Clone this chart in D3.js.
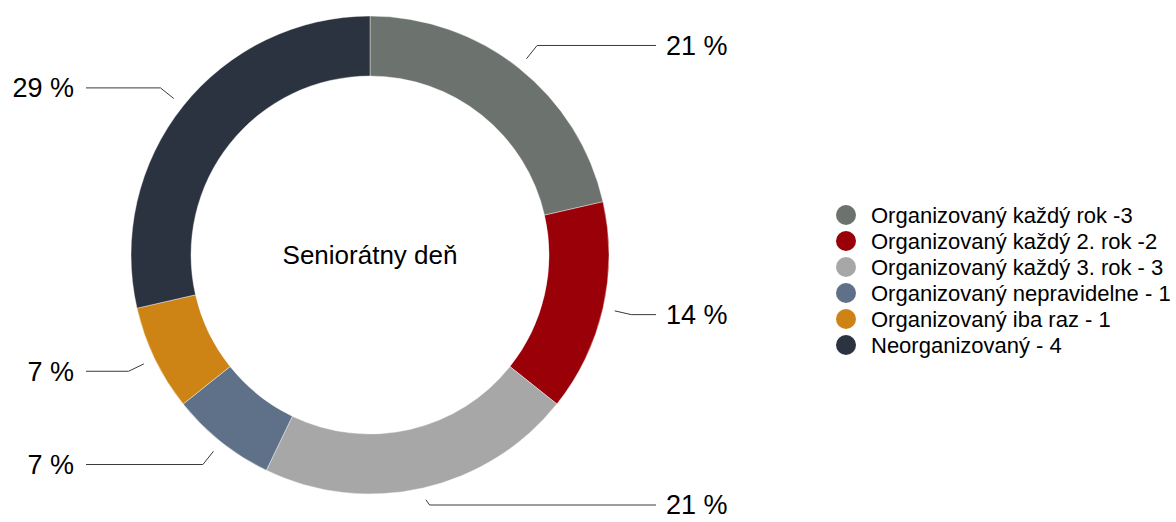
<!DOCTYPE html>
<html>
<head>
<meta charset="utf-8">
<script src="https://cdn.jsdelivr.net/npm/d3@7"></script>
<style>
  body { margin: 0; background: #fff; }
  text { font-family: "Liberation Sans", Arial, Helvetica, sans-serif; fill: #000; }
</style>
</head>
<body>
<svg id="svg"></svg>
<script>
////////////////////////////////////////////////////////////////////////
// Data

let categories = [
  "Organizovaný každý rok -3",
  "Organizovaný každý 2. rok -2",
  "Organizovaný každý 3. rok - 3",
  "Organizovaný nepravidelne - 1",
  "Organizovaný iba raz - 1",
  "Neorganizovaný - 4"
];
let values = [3, 2, 3, 1, 1, 4];
let colors = ["#6c736e", "#990007", "#a7a7a7", "#5f7189", "#cd8415", "#2c3340"];
let title = "Seniorátny deň";

////////////////////////////////////////////////////////////////////////
// Layout

let width = 1176, height = 522;
let cx = 370, cy = 255;
let outerR = 239, innerR = 179;

let svg = d3.select("#svg").attr("width", width).attr("height", height);
let g = svg.append("g").attr("transform", `translate(${cx},${cy})`);

let total = d3.sum(values);
let pie = d3.pie().sort(null).value(d => d)(values);
let arc = d3.arc().innerRadius(innerR).outerRadius(outerR);

g.selectAll("path.slice")
  .data(pie)
  .enter()
  .append("path")
  .attr("class", "slice")
  .attr("d", arc)
  .attr("fill", (d, i) => colors[i])
  .attr("stroke", "#fff")
  .attr("stroke-width", 0.4);

// centre title
g.append("text")
  .attr("text-anchor", "middle")
  .attr("dy", "0.35em")
  .style("font-size", "26px")
  .text(title);

// leader lines and percentage labels
let lineStartR = outerR + 12;
let elbowR = 268;
let rightX = 656 - cx, leftX = 86 - cx;
let maxLabelY = height - 17 - cy;   // keep the bottom label inside the picture

function polar(angle, r) {
  return [Math.sin(angle) * r, -Math.cos(angle) * r];
}

pie.forEach(function(d, i) {
  let mid = (d.startAngle + d.endAngle) / 2;
  let p1 = polar(mid, lineStartR);
  let p2 = polar(mid, elbowR);
  p2[1] = Math.min(p2[1], maxLabelY);
  let right = Math.sin(mid) >= 0;
  let endX = right ? rightX : leftX;

  g.append("polyline")
    .attr("points", [p1, p2, [endX, p2[1]]].map(p => p.join(",")).join(" "))
    .attr("fill", "none")
    .attr("stroke", "#3a3a3a")
    .attr("stroke-width", 1);

  g.append("text")
    .attr("x", right ? endX + 10 : endX - 12)
    .attr("y", p2[1])
    .attr("dy", "0.35em")
    .attr("text-anchor", right ? "start" : "end")
    .style("font-size", "27px")
    .text(Math.round(d.value / total * 100) + " %");
});

// legend
let legendY = d3.scalePoint()
  .domain(categories)
  .range([215, 345]);

let lg = svg.append("g").selectAll("g")
  .data(categories)
  .enter()
  .append("g")
  .attr("transform", d => `translate(846,${legendY(d)})`);

lg.append("circle")
  .attr("r", 10)
  .attr("fill", (d, i) => colors[i]);

lg.append("text")
  .attr("x", 25)
  .attr("dy", "0.35em")
  .style("font-size", "22px")
  .text(d => d);
</script>
</body>
</html>
